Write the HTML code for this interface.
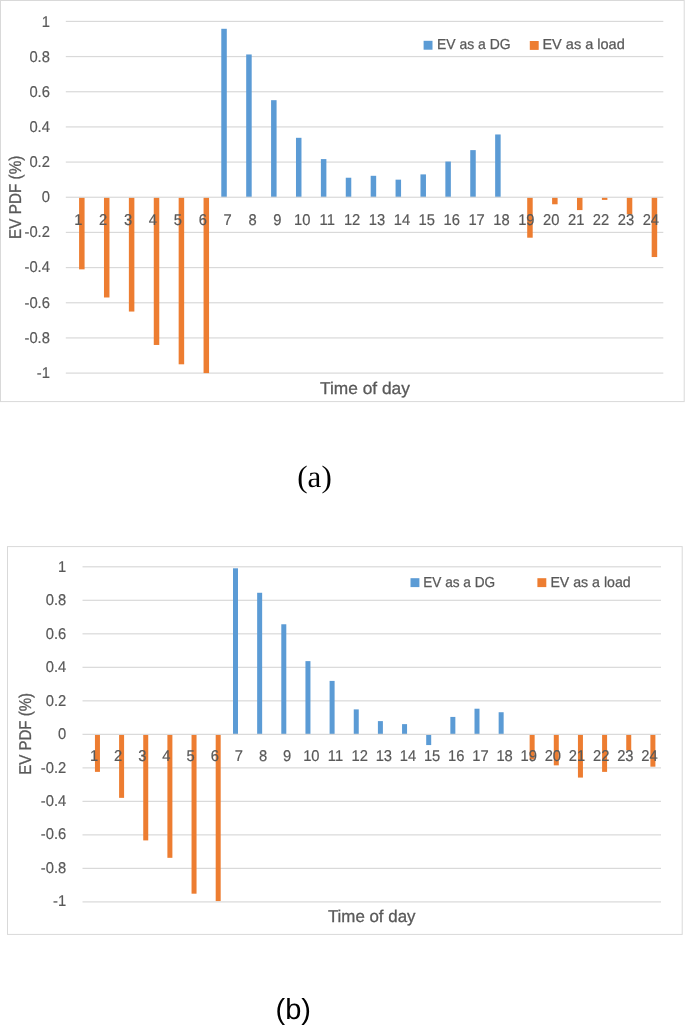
<!DOCTYPE html>
<html><head><meta charset="utf-8"><style>
html,body{margin:0;padding:0;background:#fff;}
body{width:685px;height:1025px;overflow:hidden;position:relative;}
svg{position:absolute;left:0;top:0;filter:blur(0.4px);}
text{text-rendering:geometricPrecision;}
.lab{font-family:"Liberation Sans", sans-serif;font-size:15.6px;fill:#595959;stroke:#595959;stroke-width:0.2px;}
.tit{font-family:"Liberation Sans", sans-serif;font-size:17.0px;fill:#595959;stroke:#595959;stroke-width:0.3px;}
.leg{font-family:"Liberation Sans", sans-serif;font-size:14.5px;fill:#595959;stroke:#595959;stroke-width:0.25px;}
.cap{position:absolute;color:#000;white-space:nowrap;}
</style></head><body>
<svg width="685" height="1025" viewBox="0 0 685 1025">
<rect width="685" height="1025" fill="#fff"/>
<rect x="0.5" y="0.5" width="683.70" height="401.10" fill="#fff" stroke="#D9D9D9" stroke-width="1"/>
<rect x="65.8" y="20.80" width="597.50" height="1.2" fill="#D9D9D9"/>
<text transform="translate(49.9,27.00) scale(0.945,1)" text-anchor="end" class="lab">1</text>
<rect x="65.8" y="55.97" width="597.50" height="1.2" fill="#D9D9D9"/>
<text transform="translate(49.9,62.02) scale(0.945,1)" text-anchor="end" class="lab">0.8</text>
<rect x="65.8" y="91.14" width="597.50" height="1.2" fill="#D9D9D9"/>
<text transform="translate(49.9,97.04) scale(0.945,1)" text-anchor="end" class="lab">0.6</text>
<rect x="65.8" y="126.31" width="597.50" height="1.2" fill="#D9D9D9"/>
<text transform="translate(49.9,132.06) scale(0.945,1)" text-anchor="end" class="lab">0.4</text>
<rect x="65.8" y="161.48" width="597.50" height="1.2" fill="#D9D9D9"/>
<text transform="translate(49.9,167.08) scale(0.945,1)" text-anchor="end" class="lab">0.2</text>
<text transform="translate(49.9,202.10) scale(0.945,1)" text-anchor="end" class="lab">0</text>
<rect x="65.8" y="231.82" width="597.50" height="1.2" fill="#D9D9D9"/>
<text transform="translate(49.9,237.27) scale(0.945,1)" text-anchor="end" class="lab">-0.2</text>
<rect x="65.8" y="266.99" width="597.50" height="1.2" fill="#D9D9D9"/>
<text transform="translate(49.9,272.44) scale(0.945,1)" text-anchor="end" class="lab">-0.4</text>
<rect x="65.8" y="302.16" width="597.50" height="1.2" fill="#D9D9D9"/>
<text transform="translate(49.9,307.61) scale(0.945,1)" text-anchor="end" class="lab">-0.6</text>
<rect x="65.8" y="337.33" width="597.50" height="1.2" fill="#D9D9D9"/>
<text transform="translate(49.9,342.78) scale(0.945,1)" text-anchor="end" class="lab">-0.8</text>
<rect x="65.8" y="372.50" width="597.50" height="1.2" fill="#D9D9D9"/>
<text transform="translate(49.9,377.95) scale(0.945,1)" text-anchor="end" class="lab">-1</text>
<rect x="79.08" y="197.25" width="5.5" height="72.10" fill="#ED7D31"/>
<rect x="103.97" y="197.25" width="5.5" height="100.23" fill="#ED7D31"/>
<rect x="128.87" y="197.25" width="5.5" height="114.30" fill="#ED7D31"/>
<rect x="153.77" y="197.25" width="5.5" height="147.71" fill="#ED7D31"/>
<rect x="178.66" y="197.25" width="5.5" height="167.06" fill="#ED7D31"/>
<rect x="203.56" y="197.25" width="5.5" height="175.85" fill="#ED7D31"/>
<rect x="221.29" y="28.79" width="5.5" height="168.46" fill="#5B9BD5"/>
<rect x="246.19" y="54.46" width="5.5" height="142.79" fill="#5B9BD5"/>
<rect x="271.08" y="100.18" width="5.5" height="97.07" fill="#5B9BD5"/>
<rect x="295.98" y="137.81" width="5.5" height="59.44" fill="#5B9BD5"/>
<rect x="320.88" y="159.09" width="5.5" height="38.16" fill="#5B9BD5"/>
<rect x="345.77" y="177.73" width="5.5" height="19.52" fill="#5B9BD5"/>
<rect x="370.67" y="175.80" width="5.5" height="21.45" fill="#5B9BD5"/>
<rect x="395.56" y="179.66" width="5.5" height="17.59" fill="#5B9BD5"/>
<rect x="420.46" y="174.39" width="5.5" height="22.86" fill="#5B9BD5"/>
<rect x="445.36" y="161.55" width="5.5" height="35.70" fill="#5B9BD5"/>
<rect x="470.25" y="150.12" width="5.5" height="47.13" fill="#5B9BD5"/>
<rect x="495.15" y="134.47" width="5.5" height="62.78" fill="#5B9BD5"/>
<rect x="527.20" y="197.25" width="5.5" height="40.45" fill="#ED7D31"/>
<rect x="552.10" y="197.25" width="5.5" height="7.03" fill="#ED7D31"/>
<rect x="576.99" y="197.25" width="5.5" height="12.84" fill="#ED7D31"/>
<rect x="601.89" y="197.25" width="5.5" height="2.64" fill="#ED7D31"/>
<rect x="626.79" y="197.25" width="5.5" height="17.06" fill="#ED7D31"/>
<rect x="651.68" y="197.25" width="5.5" height="59.79" fill="#ED7D31"/>
<rect x="65.8" y="196.65" width="597.50" height="1.2" fill="#D9D9D9"/>
<text transform="translate(78.25,224.7) scale(0.945,1)" text-anchor="middle" class="lab">1</text>
<text transform="translate(103.14,224.7) scale(0.945,1)" text-anchor="middle" class="lab">2</text>
<text transform="translate(128.04,224.7) scale(0.945,1)" text-anchor="middle" class="lab">3</text>
<text transform="translate(152.94,224.7) scale(0.945,1)" text-anchor="middle" class="lab">4</text>
<text transform="translate(177.83,224.7) scale(0.945,1)" text-anchor="middle" class="lab">5</text>
<text transform="translate(202.73,224.7) scale(0.945,1)" text-anchor="middle" class="lab">6</text>
<text transform="translate(227.62,224.7) scale(0.945,1)" text-anchor="middle" class="lab">7</text>
<text transform="translate(252.52,224.7) scale(0.945,1)" text-anchor="middle" class="lab">8</text>
<text transform="translate(277.41,224.7) scale(0.945,1)" text-anchor="middle" class="lab">9</text>
<text transform="translate(302.31,224.7) scale(0.945,1)" text-anchor="middle" class="lab">10</text>
<text transform="translate(327.21,224.7) scale(0.945,1)" text-anchor="middle" class="lab">11</text>
<text transform="translate(352.10,224.7) scale(0.945,1)" text-anchor="middle" class="lab">12</text>
<text transform="translate(377.00,224.7) scale(0.945,1)" text-anchor="middle" class="lab">13</text>
<text transform="translate(401.89,224.7) scale(0.945,1)" text-anchor="middle" class="lab">14</text>
<text transform="translate(426.79,224.7) scale(0.945,1)" text-anchor="middle" class="lab">15</text>
<text transform="translate(451.69,224.7) scale(0.945,1)" text-anchor="middle" class="lab">16</text>
<text transform="translate(476.58,224.7) scale(0.945,1)" text-anchor="middle" class="lab">17</text>
<text transform="translate(501.48,224.7) scale(0.945,1)" text-anchor="middle" class="lab">18</text>
<text transform="translate(526.37,224.7) scale(0.945,1)" text-anchor="middle" class="lab">19</text>
<text transform="translate(551.27,224.7) scale(0.945,1)" text-anchor="middle" class="lab">20</text>
<text transform="translate(576.16,224.7) scale(0.945,1)" text-anchor="middle" class="lab">21</text>
<text transform="translate(601.06,224.7) scale(0.945,1)" text-anchor="middle" class="lab">22</text>
<text transform="translate(625.96,224.7) scale(0.945,1)" text-anchor="middle" class="lab">23</text>
<text transform="translate(650.85,224.7) scale(0.945,1)" text-anchor="middle" class="lab">24</text>
<text transform="translate(21.3,197.3) rotate(-90)" text-anchor="middle" class="tit" textLength="83.2" lengthAdjust="spacingAndGlyphs">EV PDF (%)</text>
<text x="364.9" y="393.9" text-anchor="middle" class="tit" textLength="89.8" lengthAdjust="spacingAndGlyphs">Time of day</text>
<rect x="423.6" y="40.8" width="8.9" height="8.9" fill="#5B9BD5"/>
<text x="437.0" y="49.4" class="leg" textLength="73.6" lengthAdjust="spacingAndGlyphs">EV as a DG</text>
<rect x="529.8" y="41.0" width="8.9" height="8.9" fill="#ED7D31"/>
<text x="542.4" y="49.4" class="leg" textLength="82.4" lengthAdjust="spacingAndGlyphs">EV as a load</text>
<rect x="7.5" y="546.6" width="674.70" height="387.80" fill="#fff" stroke="#D9D9D9" stroke-width="1"/>
<rect x="82.5" y="566.20" width="578.50" height="1.2" fill="#D9D9D9"/>
<text transform="translate(66.2,571.65) scale(0.945,1)" text-anchor="end" class="lab">1</text>
<rect x="82.5" y="599.71" width="578.50" height="1.2" fill="#D9D9D9"/>
<text transform="translate(66.2,605.16) scale(0.945,1)" text-anchor="end" class="lab">0.8</text>
<rect x="82.5" y="633.22" width="578.50" height="1.2" fill="#D9D9D9"/>
<text transform="translate(66.2,638.67) scale(0.945,1)" text-anchor="end" class="lab">0.6</text>
<rect x="82.5" y="666.73" width="578.50" height="1.2" fill="#D9D9D9"/>
<text transform="translate(66.2,672.18) scale(0.945,1)" text-anchor="end" class="lab">0.4</text>
<rect x="82.5" y="700.24" width="578.50" height="1.2" fill="#D9D9D9"/>
<text transform="translate(66.2,705.69) scale(0.945,1)" text-anchor="end" class="lab">0.2</text>
<text transform="translate(66.2,739.20) scale(0.945,1)" text-anchor="end" class="lab">0</text>
<rect x="82.5" y="767.26" width="578.50" height="1.2" fill="#D9D9D9"/>
<text transform="translate(66.2,772.59) scale(0.945,1)" text-anchor="end" class="lab">-0.2</text>
<rect x="82.5" y="800.77" width="578.50" height="1.2" fill="#D9D9D9"/>
<text transform="translate(66.2,805.98) scale(0.945,1)" text-anchor="end" class="lab">-0.4</text>
<rect x="82.5" y="834.28" width="578.50" height="1.2" fill="#D9D9D9"/>
<text transform="translate(66.2,839.37) scale(0.945,1)" text-anchor="end" class="lab">-0.6</text>
<rect x="82.5" y="867.79" width="578.50" height="1.2" fill="#D9D9D9"/>
<text transform="translate(66.2,872.76) scale(0.945,1)" text-anchor="end" class="lab">-0.8</text>
<rect x="82.5" y="901.30" width="578.50" height="1.2" fill="#D9D9D9"/>
<text transform="translate(66.2,906.15) scale(0.945,1)" text-anchor="end" class="lab">-1</text>
<rect x="94.95" y="734.35" width="5.0" height="37.53" fill="#ED7D31"/>
<rect x="119.09" y="734.35" width="5.0" height="63.50" fill="#ED7D31"/>
<rect x="143.24" y="734.35" width="5.0" height="106.06" fill="#ED7D31"/>
<rect x="167.39" y="734.35" width="5.0" height="123.48" fill="#ED7D31"/>
<rect x="191.54" y="734.35" width="5.0" height="159.34" fill="#ED7D31"/>
<rect x="215.69" y="734.35" width="5.0" height="166.71" fill="#ED7D31"/>
<rect x="233.00" y="568.31" width="5.0" height="166.04" fill="#5B9BD5"/>
<rect x="257.15" y="592.77" width="5.0" height="141.58" fill="#5B9BD5"/>
<rect x="281.30" y="624.27" width="5.0" height="110.08" fill="#5B9BD5"/>
<rect x="305.45" y="661.13" width="5.0" height="73.22" fill="#5B9BD5"/>
<rect x="329.60" y="680.90" width="5.0" height="53.45" fill="#5B9BD5"/>
<rect x="353.75" y="709.39" width="5.0" height="24.96" fill="#5B9BD5"/>
<rect x="377.90" y="721.11" width="5.0" height="13.24" fill="#5B9BD5"/>
<rect x="402.05" y="724.13" width="5.0" height="10.22" fill="#5B9BD5"/>
<rect x="426.20" y="734.35" width="5.0" height="10.72" fill="#5B9BD5"/>
<rect x="450.35" y="716.92" width="5.0" height="17.43" fill="#5B9BD5"/>
<rect x="474.50" y="708.71" width="5.0" height="25.64" fill="#5B9BD5"/>
<rect x="498.65" y="712.23" width="5.0" height="22.12" fill="#5B9BD5"/>
<rect x="529.64" y="734.35" width="5.0" height="25.13" fill="#ED7D31"/>
<rect x="553.79" y="734.35" width="5.0" height="31.00" fill="#ED7D31"/>
<rect x="577.94" y="734.35" width="5.0" height="43.23" fill="#ED7D31"/>
<rect x="602.09" y="734.35" width="5.0" height="37.53" fill="#ED7D31"/>
<rect x="626.24" y="734.35" width="5.0" height="16.08" fill="#ED7D31"/>
<rect x="650.39" y="734.35" width="5.0" height="32.34" fill="#ED7D31"/>
<rect x="82.5" y="733.75" width="578.50" height="1.2" fill="#D9D9D9"/>
<text transform="translate(94.03,760.7) scale(0.945,1)" text-anchor="middle" class="lab">1</text>
<text transform="translate(118.17,760.7) scale(0.945,1)" text-anchor="middle" class="lab">2</text>
<text transform="translate(142.32,760.7) scale(0.945,1)" text-anchor="middle" class="lab">3</text>
<text transform="translate(166.47,760.7) scale(0.945,1)" text-anchor="middle" class="lab">4</text>
<text transform="translate(190.62,760.7) scale(0.945,1)" text-anchor="middle" class="lab">5</text>
<text transform="translate(214.77,760.7) scale(0.945,1)" text-anchor="middle" class="lab">6</text>
<text transform="translate(238.92,760.7) scale(0.945,1)" text-anchor="middle" class="lab">7</text>
<text transform="translate(263.07,760.7) scale(0.945,1)" text-anchor="middle" class="lab">8</text>
<text transform="translate(287.22,760.7) scale(0.945,1)" text-anchor="middle" class="lab">9</text>
<text transform="translate(311.37,760.7) scale(0.945,1)" text-anchor="middle" class="lab">10</text>
<text transform="translate(335.52,760.7) scale(0.945,1)" text-anchor="middle" class="lab">11</text>
<text transform="translate(359.67,760.7) scale(0.945,1)" text-anchor="middle" class="lab">12</text>
<text transform="translate(383.82,760.7) scale(0.945,1)" text-anchor="middle" class="lab">13</text>
<text transform="translate(407.97,760.7) scale(0.945,1)" text-anchor="middle" class="lab">14</text>
<text transform="translate(432.12,760.7) scale(0.945,1)" text-anchor="middle" class="lab">15</text>
<text transform="translate(456.27,760.7) scale(0.945,1)" text-anchor="middle" class="lab">16</text>
<text transform="translate(480.42,760.7) scale(0.945,1)" text-anchor="middle" class="lab">17</text>
<text transform="translate(504.57,760.7) scale(0.945,1)" text-anchor="middle" class="lab">18</text>
<text transform="translate(528.72,760.7) scale(0.945,1)" text-anchor="middle" class="lab">19</text>
<text transform="translate(552.87,760.7) scale(0.945,1)" text-anchor="middle" class="lab">20</text>
<text transform="translate(577.02,760.7) scale(0.945,1)" text-anchor="middle" class="lab">21</text>
<text transform="translate(601.17,760.7) scale(0.945,1)" text-anchor="middle" class="lab">22</text>
<text transform="translate(625.32,760.7) scale(0.945,1)" text-anchor="middle" class="lab">23</text>
<text transform="translate(649.47,760.7) scale(0.945,1)" text-anchor="middle" class="lab">24</text>
<text transform="translate(30.6,733.9) rotate(-90)" text-anchor="middle" class="tit" textLength="81.8" lengthAdjust="spacingAndGlyphs">EV PDF (%)</text>
<text x="371.7" y="922.2" text-anchor="middle" class="tit" textLength="87.6" lengthAdjust="spacingAndGlyphs">Time of day</text>
<rect x="410.5" y="578.2" width="8.9" height="8.9" fill="#5B9BD5"/>
<text x="423.2" y="586.9" class="leg" textLength="71.9" lengthAdjust="spacingAndGlyphs">EV as a DG</text>
<rect x="537.4" y="578.2" width="8.9" height="8.9" fill="#ED7D31"/>
<text x="550.4" y="586.9" class="leg" textLength="80.3" lengthAdjust="spacingAndGlyphs">EV as a load</text>
<text x="314.5" y="486.8" text-anchor="middle" style="font-family:'Liberation Serif',serif;font-size:31px;fill:#000">(a)</text>
<text x="293.25" y="1019.4" text-anchor="middle" style="font-family:'Liberation Sans',sans-serif;font-size:29px;fill:#000">(b)</text>
</svg>
</body></html>
